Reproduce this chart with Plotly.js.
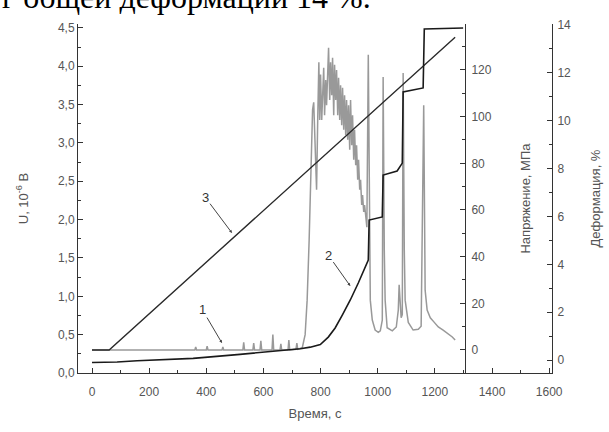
<!DOCTYPE html>
<html>
<head>
<meta charset="utf-8">
<script src="https://cdn.plot.ly/plotly-3.0.1.min.js"></script>
<style>html,body{margin:0;padding:0;background:#fff;}#chart{width:609px;height:432px;}</style>
</head>
<body>
<div id="chart"></div>
<script>
// Curve 1: acoustic signal U, 10^-6 V (left axis)
const time1 = [0, 340, 360, 363, 366, 400, 403, 406, 455, 458, 461, 528, 531, 534, 563, 566, 569, 588, 591, 594,
  630, 633, 636, 658, 661, 664, 686, 689, 692, 714, 717, 720, 736, 746, 753, 760, 767, 772, 776, 781, 786,
  790, 794, 797, 800, 804, 807, 811, 814, 818, 821, 825, 828, 832, 835, 839, 842, 846, 849, 853, 856, 860,
  863, 867, 870, 874, 877, 881, 884, 888, 891, 895, 898, 902, 905, 909, 912, 916, 919, 923, 926, 930, 933,
  937, 940, 944, 947, 951, 954, 958, 962, 967, 970, 974, 981, 991, 1002, 1009, 1016, 1019, 1023, 1026,
  1033, 1051, 1065, 1072, 1075, 1079, 1082, 1086, 1089, 1093, 1096, 1107, 1124, 1142, 1152, 1161, 1166,
  1173, 1184, 1198, 1212, 1229, 1247, 1261, 1271];
const signalU = [0.30, 0.30, 0.30, 0.34, 0.30, 0.30, 0.35, 0.30, 0.30, 0.34, 0.30, 0.30, 0.40, 0.30, 0.30, 0.39, 0.30, 0.30, 0.42, 0.30,
  0.30, 0.50, 0.30, 0.30, 0.38, 0.30, 0.30, 0.43, 0.30, 0.31, 0.39, 0.31, 0.33, 0.50, 0.95, 1.73, 2.65, 3.43, 3.53, 2.90, 2.39,
  3.30, 4.05, 3.30, 3.89, 3.30, 3.69, 3.98, 3.36, 3.82, 3.49, 4.15, 4.24, 3.56, 4.05, 3.62, 4.11, 3.36, 4.02, 3.56, 3.95, 3.36,
  3.85, 3.30, 3.75, 3.23, 3.72, 3.17, 3.62, 3.10, 3.56, 3.04, 3.49, 2.91, 3.56, 2.97, 3.36, 2.78, 3.17, 2.71, 2.97, 2.52, 2.78,
  2.39, 2.52, 2.19, 2.32, 2.10, 2.19, 2.05, 1.90, 4.15, 2.00, 0.95, 0.69, 0.56, 0.53, 0.55, 0.69, 3.86, 1.60, 0.95,
  0.59, 0.55, 0.60, 0.82, 1.15, 0.95, 0.72, 0.76, 3.91, 1.60, 0.95, 0.66, 0.56, 0.57, 0.61, 3.49, 1.08,
  0.82, 0.72, 0.66, 0.60, 0.56, 0.51, 0.47, 0.43];

// Curve 2: deformation, % (right axis)
const time2 = [0, 88, 158, 354, 518, 624, 729, 764, 799, 827, 851, 876, 904, 932, 967, 970, 1016, 1019, 1068, 1086, 1089, 1159, 1163, 1299];
const deformation = [-0.10, -0.08, -0.03, 0.07, 0.24, 0.35, 0.47, 0.54, 0.65, 0.96, 1.34, 1.88, 2.51, 3.22, 4.18, 5.85, 5.98, 7.73, 7.90, 8.23, 11.20, 11.37, 13.83, 13.87];

// Curve 3: stress, MPa (middle axis)
const time3 = [0, 60, 1271];
const stress = [0, 0, 134];

// Tick values
const xTicks = [0, 200, 400, 600, 800, 1000, 1200, 1400, 1600];
const uTicks = [0, 0.5, 1, 1.5, 2, 2.5, 3, 3.5, 4, 4.5];
const stressTicks = [0, 20, 40, 60, 80, 100, 120, 140];
const defTicks = [0, 2, 4, 6, 8, 10, 12, 14];

const axCol = '#333';
const lblCol = '#555';
const fnt = 'Liberation Sans, Arial, sans-serif';

const traces = [
  {x: time1, y: signalU, type: 'scatter', mode: 'lines', line: {color: '#999999', width: 1.5}, xaxis: 'x', yaxis: 'y', showlegend: false},
  {x: time3, y: stress, type: 'scatter', mode: 'lines', line: {color: '#2a2a2a', width: 1.4}, xaxis: 'x', yaxis: 'y2', showlegend: false},
  {x: time2, y: deformation, type: 'scatter', mode: 'lines', line: {color: '#1a1a1a', width: 1.6}, xaxis: 'x', yaxis: 'y3', showlegend: false}
];

const common = {showgrid: false, zeroline: false, showline: true, linecolor: axCol, linewidth: 1,
  ticks: 'inside', ticklen: 5, tickcolor: axCol, tickfont: {family: fnt, size: 12, color: lblCol}};

const L = 78, R = 552, T = 24, B = 373;
const px2paperX = p => (p - L) / (R - L);
const px2paperY = p => (B - p) / (B - T);

const layout = {
  width: 609, height: 432,
  margin: {l: L, r: 609 - R, t: T, b: 432 - B},
  paper_bgcolor: '#fff', plot_bgcolor: '#fff',
  separators: ', ',
  showlegend: false,
  font: {family: fnt, color: lblCol},
  xaxis: Object.assign({}, common, {
    range: [-49, 1610], tickvals: xTicks, ticktext: xTicks.map(String),
    ticklabelstandoff: 8,
    minor: {dtick: 100, tick0: 0, ticks: 'inside', ticklen: 3, tickcolor: axCol},
    title: {text: 'Время, с', font: {family: fnt, size: 13, color: lblCol}, standoff: 10}
  }),
  yaxis: Object.assign({}, common, {
    range: [0, 4.55], tickvals: uTicks, ticktext: uTicks.map(v => v.toFixed(1).replace('.', ',')),
    minor: {dtick: 0.25, tick0: 0, ticks: 'inside', ticklen: 3, tickcolor: axCol},
    title: {text: 'U, 10<sup>-6</sup> В', font: {family: fnt, size: 13, color: lblCol}, standoff: 26}
  }),
  yaxis2: Object.assign({}, common, {
    overlaying: 'y', anchor: 'free', position: px2paperX(465), side: 'right',
    range: [-9.86, 139.7], tickvals: stressTicks, ticktext: stressTicks.map(String),
    ticklabelstandoff: 3,
    minor: {dtick: 10, tick0: 0, ticks: 'inside', ticklen: 3, tickcolor: axCol},
    title: {text: 'Напряжение, МПа', font: {family: fnt, size: 13, color: lblCol}, standoff: 30}
  }),
  yaxis3: Object.assign({}, common, {
    overlaying: 'y', anchor: 'x', side: 'right',
    range: [-0.54, 14.04], tickvals: defTicks, ticktext: defTicks.map(String),
    ticklabelstandoff: 2,
    minor: {dtick: 1, tick0: 0, ticks: 'inside', ticklen: 3, tickcolor: axCol},
    title: {text: 'Деформация, %', font: {family: fnt, size: 13, color: lblCol}, standoff: 20}
  }),
  annotations: [
    {text: '3', x: 490, y: 1.825, xref: 'x', yref: 'y', ax: -27, ay: -36, showarrow: true, arrowhead: 2, arrowsize: 0.6, arrowwidth: 1, arrowcolor: '#444', standoff: 0, font: {family: fnt, size: 13, color: '#333'}},
    {text: '2', x: 904, y: 1.134, xref: 'x', yref: 'y', ax: -22, ay: -31, showarrow: true, arrowhead: 2, arrowsize: 0.6, arrowwidth: 1, arrowcolor: '#444', standoff: 0, font: {family: fnt, size: 13, color: '#333'}},
    {text: '1', x: 455, y: 0.39, xref: 'x', yref: 'y', ax: -20, ay: -34, showarrow: true, arrowhead: 2, arrowsize: 0.6, arrowwidth: 1, arrowcolor: '#444', standoff: 0, font: {family: fnt, size: 13, color: '#333'}},
    {text: 'г общей деформации 14 %.', xref: 'paper', yref: 'paper', x: px2paperX(0), y: px2paperY(-3), xanchor: 'left', yanchor: 'middle', showarrow: false, font: {family: 'Liberation Serif, Times New Roman, serif', size: 32, color: '#000'}}
  ]
};

Plotly.newPlot('chart', traces, layout, {staticPlot: true, displayModeBar: false});
</script>
</body>
</html>
